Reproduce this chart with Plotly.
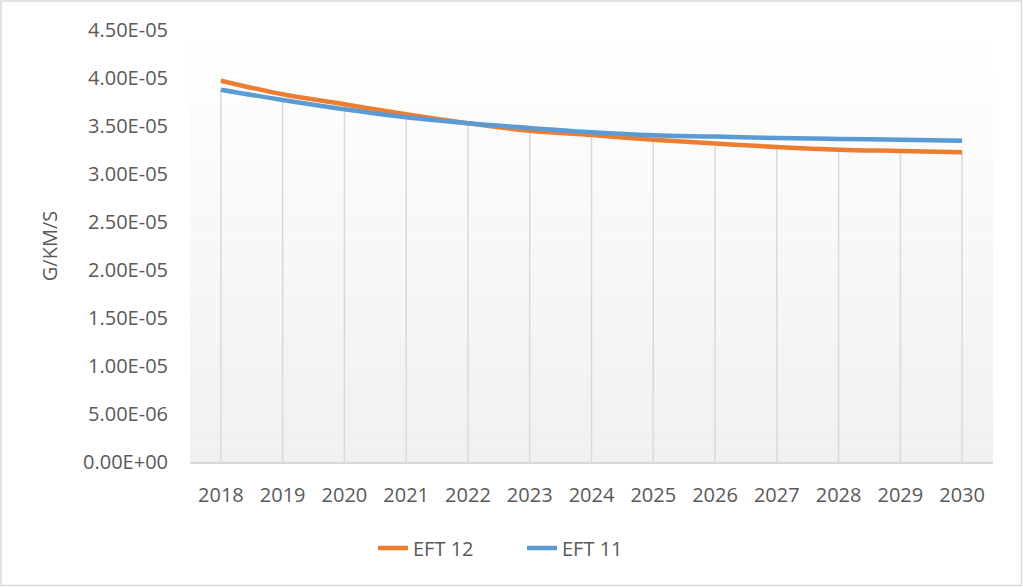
import plotly.graph_objects as go

years = ["2018", "2019", "2020", "2021", "2022", "2023", "2024",
         "2025", "2026", "2027", "2028", "2029", "2030"]
eft12 = [3.972e-5, 3.830e-5, 3.726e-5, 3.622e-5, 3.528e-5, 3.451e-5, 3.406e-5,
         3.357e-5, 3.318e-5, 3.281e-5, 3.253e-5, 3.240e-5, 3.226e-5]
eft11 = [3.878e-5, 3.771e-5, 3.674e-5, 3.590e-5, 3.528e-5, 3.479e-5, 3.434e-5,
         3.403e-5, 3.390e-5, 3.375e-5, 3.365e-5, 3.357e-5, 3.347e-5]
ytick_vals = [0, 5e-6, 1e-5, 1.5e-5, 2e-5, 2.5e-5, 3e-5, 3.5e-5, 4e-5, 4.5e-5]
ytick_text = ["0.00E+00", "5.00E-06", "1.00E-05", "1.50E-05", "2.00E-05",
              "2.50E-05", "3.00E-05", "3.50E-05", "4.00E-05", "4.50E-05"]

W, H = 1023, 587
ML, MR, MT, MB = 190, 30, 30, 125
PW = W - ML - MR
PH = H - MT - MB
FONT = "Open Sans"
FS = 20
TXT = "#595959"

fig = go.Figure()

# drop lines from axis up to the lower series point
dx, dy = [], []
for i, yr in enumerate(years):
    dx += [yr, yr, None]
    dy += [0, min(eft12[i], eft11[i]), None]
fig.add_trace(go.Scatter(x=dx, y=dy, mode="lines", showlegend=False,
                         hoverinfo="skip",
                         line=dict(color="#d9d9d9", width=1.5)))

fig.add_trace(go.Scatter(x=years, y=eft12, name="EFT 12", mode="lines",
                         line=dict(color="#ED7D31", width=4.5, shape="spline")))
fig.add_trace(go.Scatter(x=years, y=eft11, name="EFT 11", mode="lines",
                         line=dict(color="#5B9BD5", width=4.5, shape="spline")))

# gradient plot-area background
shapes = []
n = 40
for k in range(n):
    t = (k + 0.5) / n  # 0 top -> 1 bottom
    g = round(255 - (255 - 240) * t)
    shapes.append(dict(type="rect", xref="paper", yref="paper",
                       x0=0, x1=1, y0=1 - (k + 1) / n, y1=1 - k / n,
                       fillcolor=f"rgb({g},{g},{g})", line=dict(width=0),
                       layer="below"))
# outer chart border
shapes.append(dict(type="rect", xref="paper", yref="paper",
                   x0=(1 - ML) / PW, x1=(W - 1.5 - ML) / PW,
                   y0=-(H - 1.5 - MT - PH) / PH, y1=1 + (MT - 1) / PH,
                   line=dict(color="#d9d9d9", width=1.5),
                   fillcolor="rgba(0,0,0,0)", layer="below"))

fig.update_layout(
    width=W, height=H,
    margin=dict(l=ML, r=MR, t=MT, b=MB),
    paper_bgcolor="white",
    plot_bgcolor="rgba(0,0,0,0)",
    font=dict(family=FONT, size=FS, color=TXT),
    shapes=shapes,
    showlegend=True,
    legend=dict(orientation="h", x=(373 - ML) / PW, xanchor="left",
                y=-0.199, yanchor="middle", font=dict(size=FS, color=TXT),
                entrywidth=104, entrywidthmode="pixels",
                bgcolor="rgba(0,0,0,0)"),
    xaxis=dict(type="category", showgrid=False, zeroline=False,
               showline=True, linecolor="#d9d9d9", linewidth=1.5,
               ticks="outside", ticklen=14, tickcolor="rgba(0,0,0,0)",
               tickfont=dict(size=FS, color=TXT),
               range=[-0.5, len(years) - 0.5]),
    yaxis=dict(range=[0, 4.5e-5], tickvals=ytick_vals, ticktext=ytick_text,
               showgrid=False, zeroline=False, showline=False,
               ticks="outside", ticklen=17, tickcolor="rgba(0,0,0,0)",
               tickfont=dict(size=FS, color=TXT),
               title=dict(text="G/KM/S", font=dict(size=FS, color=TXT),
                          standoff=20)),
)

fig.write_html(
    "out.html",
    config={"displayModeBar": False},
    post_script="document.body.style.margin='0';"
                "document.body.style.overflow='hidden';",
)
